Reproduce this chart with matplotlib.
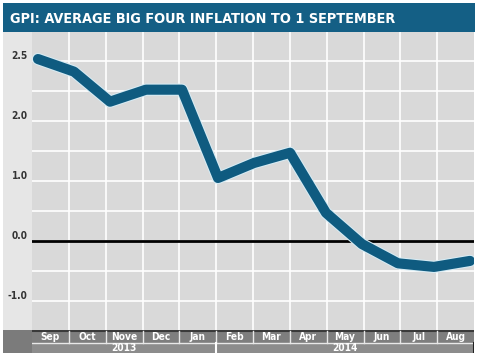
import numpy as np
import matplotlib
matplotlib.use("Agg")
import matplotlib.pyplot as plt
from matplotlib.patches import Rectangle
import matplotlib.patheffects as pe

# ---- data ----
title = "GPI: AVERAGE BIG FOUR INFLATION TO 1 SEPTEMBER"
months = ["Sep", "Oct", "Nove", "Dec", "Jan", "Feb", "Mar", "Apr", "May", "Jun", "Jul", "Aug"]
years = ["2013", "2014"]
year_spans = [(0, 5), (5, 12)]          # month index ranges per year
values = [3.03, 2.82, 2.32, 2.52, 2.52, 1.05, 1.30, 1.47, 0.47, -0.05, -0.37, -0.43, -0.33]
ytick_pos = [3, 2, 1, 0, -1]
ytick_labels = ["2.5", "2.0", "1.0", "0.0", "-1.0"]

W, H = 480, 356
fig = plt.figure(figsize=(W / 100, H / 100), dpi=100)
fig.patch.set_facecolor("white")

def fx(p):
    return p / W

def fy(p):
    return 1 - p / H

FAM = ["DejaVu Sans"]
BLUE = "#0f5b80"

# title bar
fig.patches.append(Rectangle((fx(3), fy(32)), fx(472), 29 / H, transform=fig.transFigure,
                             facecolor="#145f85", edgecolor="none", zorder=-1))
fig.text(fx(10), fy(19), title, color="white", fontsize=10.4, fontweight="bold",
         family=FAM, fontstretch="condensed", va="center", ha="left")

# left gutter
fig.patches.append(Rectangle((fx(3), fy(330)), fx(29), 298 / H, transform=fig.transFigure,
                             facecolor="#e6e6e6", edgecolor="none", zorder=-1))
fig.patches.append(Rectangle((fx(3), fy(353)), fx(29), 23 / H, transform=fig.transFigure,
                             facecolor="#7b7b7b", edgecolor="none", zorder=-1))

# main axes
L, R, T, B = 32, 474, 32, 330
ax = fig.add_axes([fx(L), fy(B), fx(R - L), (B - T) / H])
ax.set_facecolor("#d9d9d9")
x = np.arange(len(values))
xlo, xhi = (L - 38) / 36.0, (R - 38) / 36.0
ax.set_xlim(xlo, xhi)
ax.set_ylim(-1.48, 3.48)
edges = np.linspace(xlo, xhi, len(months) + 1)
for e in edges[1:-1]:
    ax.axvline(e, color="white", lw=1.2, zorder=1)
for yv in np.arange(-1.0, 3.01, 0.5):
    ax.axhline(yv, color="white", lw=1.2, zorder=1)
ax.axhline(0, color="black", lw=2, zorder=2)
ax.plot(x, values, color=BLUE, lw=7.3, solid_joinstyle="round", solid_capstyle="round", zorder=3,
        path_effects=[pe.Stroke(linewidth=8.8, foreground="#d6ecf5"), pe.Normal()])
ax.set_xticks([])
ax.set_yticks([])
for s in ax.spines.values():
    s.set_visible(False)

# y tick labels (in gutter)
for pos, lab in zip(ytick_pos, ytick_labels):
    ax.annotate(lab, xy=(0, pos), xycoords=("axes fraction", "data"), xytext=(-3, 3.5),
                textcoords="offset points", ha="right", va="center", fontsize=7.3,
                fontweight="bold", color="#333333", family=FAM, fontstretch="condensed")

# bottom band
bx = fig.add_axes([fx(L), fy(353), fx(R - L), 23 / H])
bx.set_xlim(xlo, xhi)
bx.set_ylim(0, 23)
bx.axis("off")
bx.add_patch(Rectangle((xlo, 10), xhi - xlo, 13, facecolor="#7e7e7e", edgecolor="none"))
bx.add_patch(Rectangle((xlo, 0), xhi - xlo, 10, facecolor="#8c8c8c", edgecolor="none"))
bx.plot([xlo, xhi], [22.5, 22.5], color="#3a3a3a", lw=1.5)
for e in edges[1:-1]:
    bx.plot([e, e], [10, 22], color="#e8e8e8", lw=1)
bx.plot([xlo, xhi], [10, 10], color="#e8e8e8", lw=1)
for i, m in enumerate(months):
    bx.text((edges[i] + edges[i + 1]) / 2, 16, m, color="white", fontsize=7.3, fontweight="bold",
            family=FAM, fontstretch="condensed", ha="center", va="center")
for (a, b), yr in zip(year_spans, years):
    bx.text((edges[a] + edges[b]) / 2, 4.8, yr, color="white", fontsize=7.3, fontweight="bold",
            family=FAM, fontstretch="condensed", ha="center", va="center")
bx.plot([edges[5], edges[5]], [0, 10], color="white", lw=1.5)
bx.plot([xhi, xhi], [0, 10], color="#222222", lw=1.5)

fig.savefig("out.png", dpi=100, facecolor="white")
